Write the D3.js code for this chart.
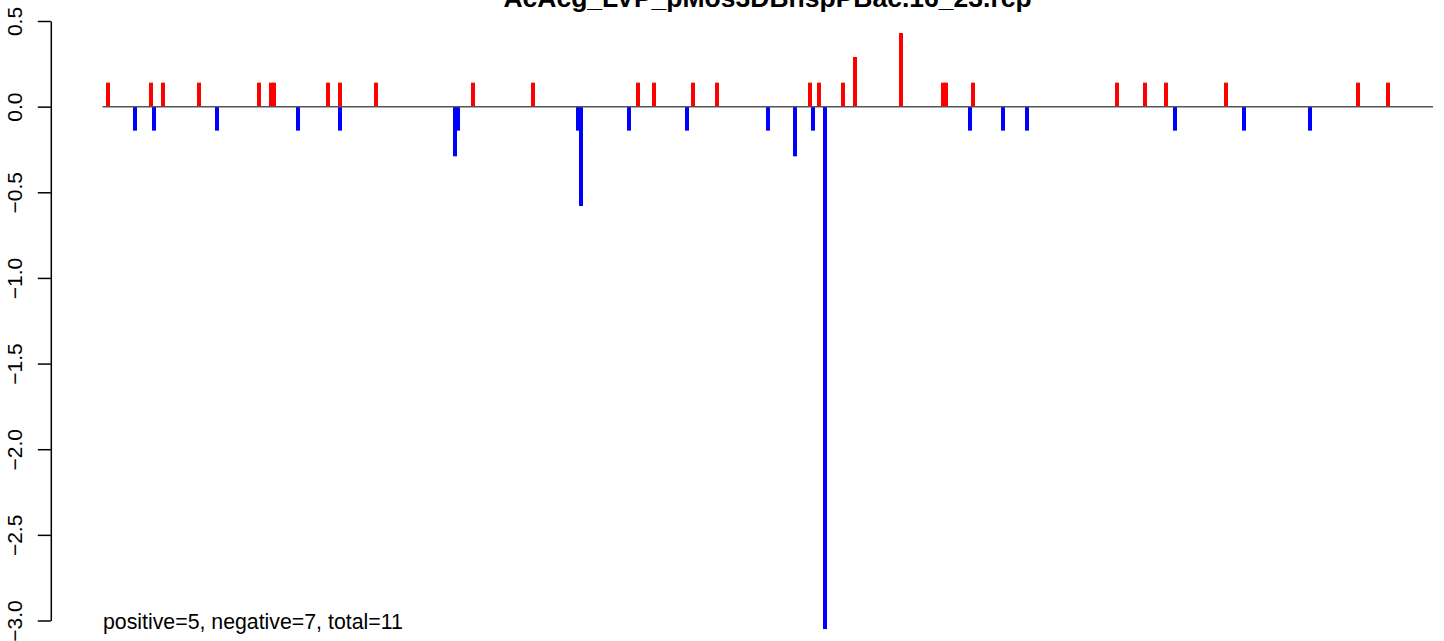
<!DOCTYPE html>
<html>
<head>
<meta charset="utf-8">
<script src="https://cdn.jsdelivr.net/npm/d3@7"></script>
<style>
  html, body { margin: 0; padding: 0; background: #fff; }
  svg { display: block; }
  text { font-family: "Liberation Sans", Arial, Helvetica, sans-serif; }
</style>
</head>
<body>
<svg id="chart" width="1444" height="641"></svg>
<script>
// ---- data ----
const chartTitle = "AcAcg_LVP_pMos3DBhspPBac.16_23.rcp";
const footnote = "positive=5, negative=7, total=11";
const yTicks = [0.5, 0.0, -0.5, -1.0, -1.5, -2.0, -2.5, -3.0];

const positivePos = [5, 48, 60, 96, 156, 168, 171, 225, 237, 273, 370, 430, 535, 551, 590, 614,
  707, 716, 740, 752, 798, 840, 843, 870, 1014, 1042, 1063, 1123, 1255, 1285];
const positiveVal = [0.14, 0.14, 0.14, 0.14, 0.14, 0.14, 0.14, 0.14, 0.14, 0.14, 0.14, 0.14, 0.14, 0.14, 0.14, 0.14,
  0.14, 0.14, 0.14, 0.29, 0.43, 0.14, 0.14, 0.14, 0.14, 0.14, 0.14, 0.14, 0.14, 0.14];

const negativePos = [32, 51, 114, 195, 237, 352, 355, 475, 478, 526, 584, 665, 692, 710, 722,
  867, 900, 924, 1072, 1141, 1207];
const negativeVal = [-0.14, -0.14, -0.14, -0.14, -0.14, -0.29, -0.14, -0.14, -0.58, -0.14, -0.14, -0.14, -0.29, -0.14, -3.05,
  -0.14, -0.14, -0.14, -0.14, -0.14, -0.14];

// ---- layout ----
const svg = d3.select("#chart");
const x = d3.scaleLinear().domain([0, 1330]).range([103, 1433]);
const y = d3.scaleLinear().domain([-3.0, 0.5]).range([620.5, 21]);
const barW = 4;

const bars = [
  ...positivePos.map((p, i) => ({ pos: p, val: positiveVal[i], color: "#ff0000" })),
  ...negativePos.map((p, i) => ({ pos: p, val: negativeVal[i], color: "#0000ff" }))
];

svg.append("g").selectAll("rect")
  .data(bars)
  .join("rect")
  .attr("x", d => x(d.pos) - barW / 2)
  .attr("y", d => y(Math.max(0, d.val)))
  .attr("width", barW)
  .attr("height", d => Math.abs(y(d.val) - y(0)))
  .attr("fill", d => d.color);

// zero line
svg.append("line")
  .attr("x1", x(0) - 0.5).attr("x2", x(1330))
  .attr("y1", y(0)).attr("y2", y(0))
  .attr("stroke", "#555555")
  .attr("stroke-width", 1.5);

// y axis
const axis = d3.axisLeft(y)
  .tickValues(yTicks)
  .tickSize(13)
  .tickSizeOuter(0)
  .tickFormat(d3.format(".1f"));

const gAxis = svg.append("g")
  .attr("transform", "translate(50.8,0)")
  .call(axis);
gAxis.select(".domain").attr("stroke", "#000").attr("stroke-width", 1.5);
gAxis.selectAll(".tick line").attr("stroke", "#000").attr("stroke-width", 1.5);
gAxis.selectAll(".tick text")
  .attr("x", 0)
  .attr("dy", 0)
  .attr("text-anchor", "middle")
  .attr("transform", "translate(-29,0) rotate(-90)")
  .attr("fill", "#000")
  .style("font-size", "21px")
  .style("font-family", "'Liberation Sans', Arial, Helvetica, sans-serif");

// title
svg.append("text")
  .attr("x", 767.5)
  .attr("y", 7)
  .attr("text-anchor", "middle")
  .style("font-size", "26.5px")
  .style("font-weight", "bold")
  .attr("fill", "#000")
  .text(chartTitle);

// footnote
svg.append("text")
  .attr("x", 103)
  .attr("y", 629)
  .style("font-size", "21.3px")
  .attr("fill", "#000")
  .text(footnote);
</script>
</body>
</html>
